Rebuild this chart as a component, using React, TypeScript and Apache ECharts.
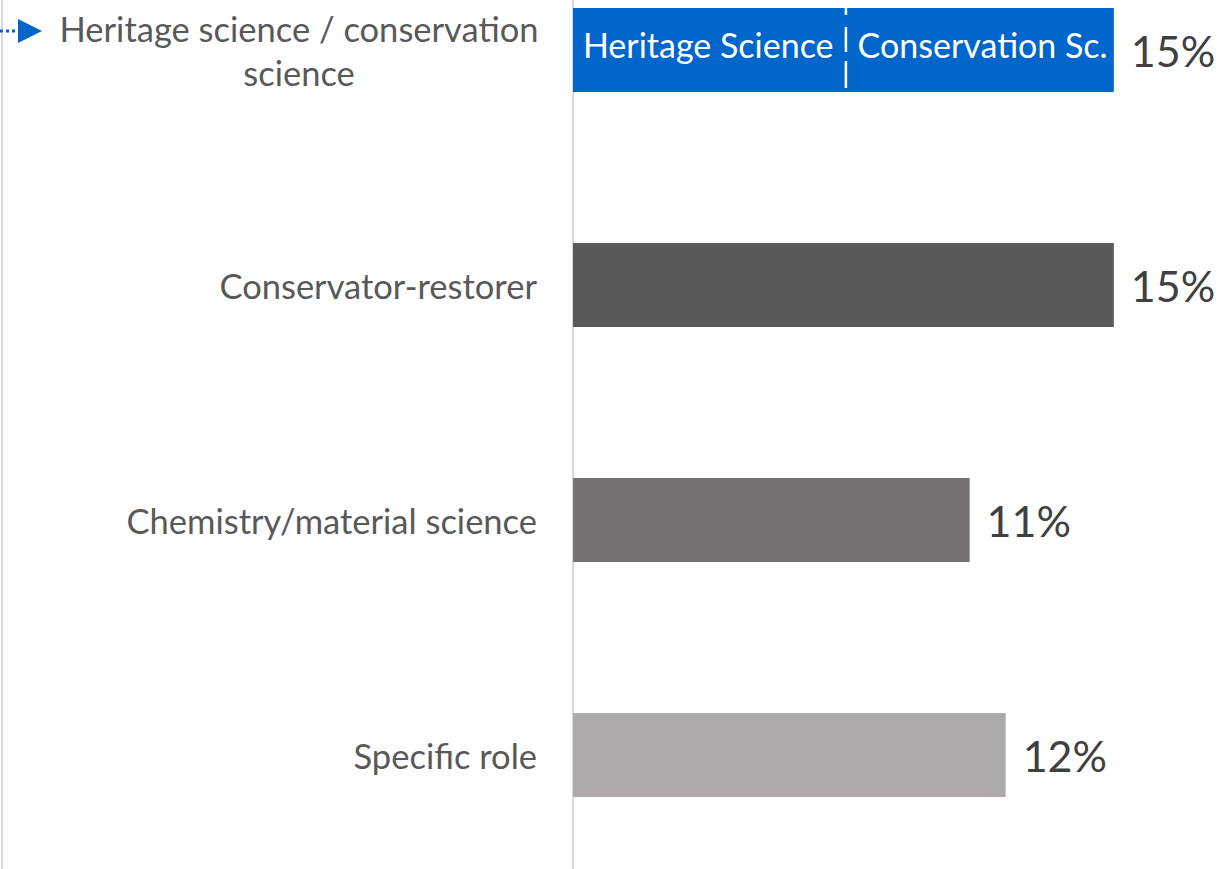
import React, { useEffect, useRef } from "react";
import * as echarts from "echarts";

const categories = [
  "Heritage science / conservation\nscience",
  "Conservator-restorer",
  "Chemistry/material science",
  "Specific role",
];
const values = [15, 15, 11, 12];
const barColors = ["#0066CC", "#595959", "#767171", "#AEAAAA"];
const innerLabels = ["Heritage Science", "Conservation Sc."];

const FONT = "Lato";

export default function App() {
  const ref = useRef<HTMLDivElement>(null);
  useEffect(() => {
    if (!ref.current) return;
    const chart = echarts.init(ref.current, null, { renderer: "svg" });
    chart.setOption({
      animation: false,
      backgroundColor: "#ffffff",
      grid: {
        left: 573,
        top: -67.5,
        height: 940,
        width: 649,
        containLabel: false,
        outerBoundsMode: "none",
      },
      xAxis: { type: "value", min: 0, max: 18, show: false },
      yAxis: {
        type: "category",
        data: categories,
        inverse: true,
        axisLine: { show: true, lineStyle: { color: "#D9D9D9", width: 2 } },
        axisTick: { show: false },
        axisLabel: {
          margin: 36,
          fontFamily: FONT,
          fontSize: 34.5,
          color: "#595959",
          align: "right",
          formatter: (v: string) =>
            v.includes("\n")
              ? v.split("\n").map((l) => `{c|${l}}`).join("\n")
              : v,
          rich: {
            c: {
              width: 476,
              align: "center",
              lineHeight: 44,
              fontFamily: FONT,
              fontSize: 34.5,
              color: "#595959",
            },
          },
        },
      },
      series: [
        {
          type: "bar",
          barWidth: 84,
          data: values.map((v, i) => ({ value: v, itemStyle: { color: barColors[i] } })),
          label: {
            show: true,
            position: "right",
            distance: 17,
            formatter: "{c}%",
            fontFamily: FONT,
            fontSize: 43,
            color: "#404040",
          },
        },
      ],
    });

    const v0 = values[0];
    const xl = chart.convertToPixel({ xAxisIndex: 0 }, v0 / 4) as number;
    const xm = chart.convertToPixel({ xAxisIndex: 0 }, v0 / 2) as number;
    const xr = chart.convertToPixel({ xAxisIndex: 0 }, (3 * v0) / 4) as number;
    const yc = chart.convertToPixel({ yAxisIndex: 0 }, 0) as number;

    chart.setOption({
      graphic: [
        {
          type: "line",
          shape: { x1: 2, y1: 0, x2: 2, y2: 869 },
          style: { stroke: "#D9D9D9", lineWidth: 2 },
          z: 10,
        },
        {
          type: "line",
          shape: { x1: 0, y1: yc - 19, x2: 18, y2: yc - 19 },
          style: { stroke: "#0066CC", lineWidth: 3, lineDash: [3, 3] },
          z: 10,
        },
        {
          type: "polygon",
          shape: { points: [[18, yc - 31], [42, yc - 19], [18, yc - 7]] },
          style: { fill: "#0066CC" },
          z: 10,
        },
        {
          type: "line",
          shape: { x1: xm + 2.5, y1: yc - 43, x2: xm + 2.5, y2: yc + 38 },
          style: { stroke: "#ffffff", lineWidth: 2.5, lineDash: [8, 12, 25, 9, 27, 100] },
          z: 10,
        },
        {
          type: "text",
          x: xl,
          y: yc - 6,
          style: {
            text: innerLabels[0],
            fill: "#ffffff",
            fontFamily: FONT,
            fontSize: 34,
            textAlign: "center",
            textVerticalAlign: "middle",
          },
          z: 10,
        },
        {
          type: "text",
          x: xr + 4,
          y: yc - 6,
          style: {
            text: innerLabels[1],
            fill: "#ffffff",
            fontFamily: FONT,
            fontSize: 34,
            textAlign: "center",
            textVerticalAlign: "middle",
          },
          z: 10,
        },
      ],
    });
    return () => chart.dispose();
  }, []);
  return (
    <div
      ref={ref}
      style={{ position: "fixed", left: 0, top: 0, width: 1218, height: 869 }}
    />
  );
}
